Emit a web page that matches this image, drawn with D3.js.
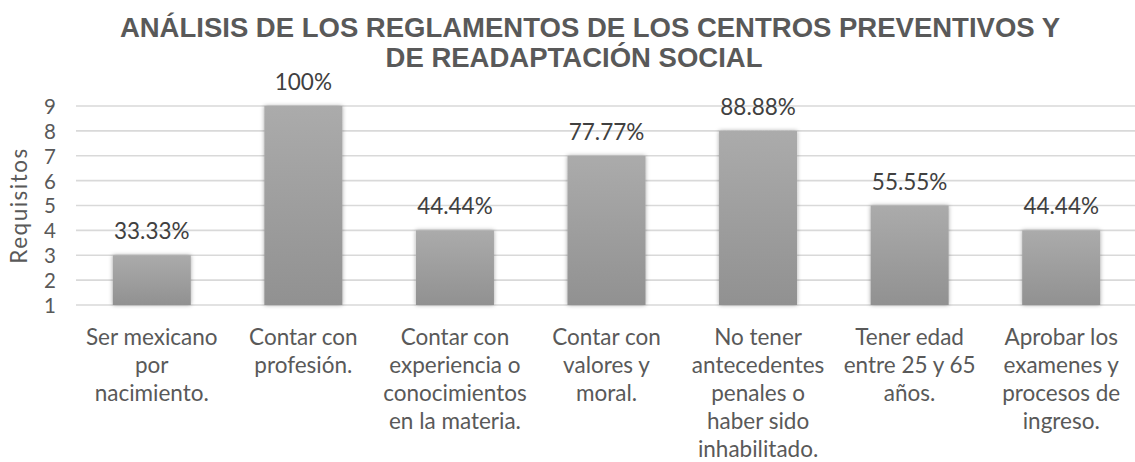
<!DOCTYPE html>
<html>
<head>
<meta charset="utf-8">
<script src="https://cdn.jsdelivr.net/npm/d3@7"></script>
<style>
  html, body { margin: 0; padding: 0; background: #ffffff; }
  svg { display: block; }
</style>
</head>
<body>
<svg id="chart" width="1135" height="462"></svg>
<script>
const titleLines = ["ANÁLISIS DE LOS REGLAMENTOS DE LOS CENTROS PREVENTIVOS Y", "DE READAPTACIÓN SOCIAL"];
const categories = [
  ["Ser mexicano", "por", "nacimiento."],
  ["Contar con", "profesión."],
  ["Contar con", "experiencia o", "conocimientos", "en la materia."],
  ["Contar con", "valores y", "moral."],
  ["No tener", "antecedentes", "penales o", "haber sido", "inhabilitado."],
  ["Tener edad", "entre 25 y 65", "años."],
  ["Aprobar los", "examenes y", "procesos de", "ingreso."]
];
const values = [3, 9, 4, 7, 8, 5, 4];
const valueLabels = ["33.33%", "100%", "44.44%", "77.77%", "88.88%", "55.55%", "44.44%"];
const yTicks = [1, 2, 3, 4, 5, 6, 7, 8, 9];
const yTitle = "Requisitos";

const svg = d3.select("#chart");
const W = 1135;
const plot = { left: 76, right: 1137, top: 106, bottom: 305 };
const bodyFont = "Lato, 'Open Sans', sans-serif";

const defs = svg.append("defs");
const grad = defs.append("linearGradient").attr("id", "barGrad")
  .attr("x1", 0).attr("y1", 0).attr("x2", 0).attr("y2", 1);
grad.append("stop").attr("offset", "0%").attr("stop-color", "#ababab");
grad.append("stop").attr("offset", "100%").attr("stop-color", "#919191");
const filt = defs.append("filter").attr("id", "shadow")
  .attr("x", "-20%").attr("y", "-20%").attr("width", "140%").attr("height", "140%");
filt.append("feDropShadow").attr("dx", 0).attr("dy", 0).attr("stdDeviation", 2.2)
  .attr("flood-color", "#000").attr("flood-opacity", 0.35);

const idx = d3.range(values.length);
const x = d3.scaleBand().domain(idx).range([plot.left, plot.right])
  .paddingInner(0.485).paddingOuter(0.2425);
const y = d3.scaleLinear().domain([1, 9]).range([plot.bottom, plot.top]);

// title
svg.append("g").selectAll("text").data(titleLines).join("text")
  .attr("x", (d, i) => i === 0 ? 590 : 574)
  .attr("y", (d, i) => 37 + i * 30)
  .attr("text-anchor", "middle")
  .attr("font-family", "'Liberation Sans', Arial, sans-serif")
  .attr("font-weight", "bold")
  .attr("font-size", 27.5)
  .attr("fill", "#595959")
  .text(d => d);

// gridlines
svg.append("g").selectAll("line").data(yTicks).join("line")
  .attr("x1", plot.left).attr("x2", W)
  .attr("y1", d => y(d)).attr("y2", d => y(d))
  .attr("stroke", "#d9d9d9").attr("stroke-width", 1.6);

// y axis labels
const yAxis = d3.axisLeft(y).tickValues(yTicks).tickSize(0).tickPadding(0);
const ya = svg.append("g").attr("transform", `translate(56,0)`).call(yAxis);
ya.select(".domain").remove();
ya.selectAll("text")
  .attr("font-family", bodyFont).attr("font-size", 20.5).attr("fill", "#595959")
  .attr("dy", "0.36em");

// y title
svg.append("text")
  .attr("transform", `translate(27,${(plot.top + plot.bottom) / 2}) rotate(-90)`)
  .attr("text-anchor", "middle")
  .attr("font-family", bodyFont).attr("font-size", 22.5).attr("fill", "#595959")
  .attr("letter-spacing", 1.5)
  .text(yTitle);

// bars
svg.append("g").selectAll("rect").data(idx).join("rect")
  .attr("x", i => x(i)).attr("width", x.bandwidth())
  .attr("y", i => y(values[i])).attr("height", i => y(1) - y(values[i]))
  .attr("fill", "url(#barGrad)")
  .attr("filter", "url(#shadow)");

// value labels
svg.append("g").selectAll("text").data(idx).join("text")
  .attr("x", i => x(i) + x.bandwidth() / 2)
  .attr("y", i => y(values[i]) - 16)
  .attr("text-anchor", "middle")
  .attr("font-family", bodyFont).attr("font-size", 22.5).attr("fill", "#404040")
  .text(i => valueLabels[i]);

// category labels
const cat = svg.append("g").selectAll("text").data(idx).join("text")
  .attr("text-anchor", "middle")
  .attr("font-family", bodyFont).attr("font-size", 22.5).attr("fill", "#595959");
cat.each(function(i) {
  const t = d3.select(this);
  categories[i].forEach((line, k) => {
    t.append("tspan")
      .attr("x", x(i) + x.bandwidth() / 2)
      .attr("y", 345 + k * 28)
      .text(line);
  });
});
</script>
</body>
</html>
